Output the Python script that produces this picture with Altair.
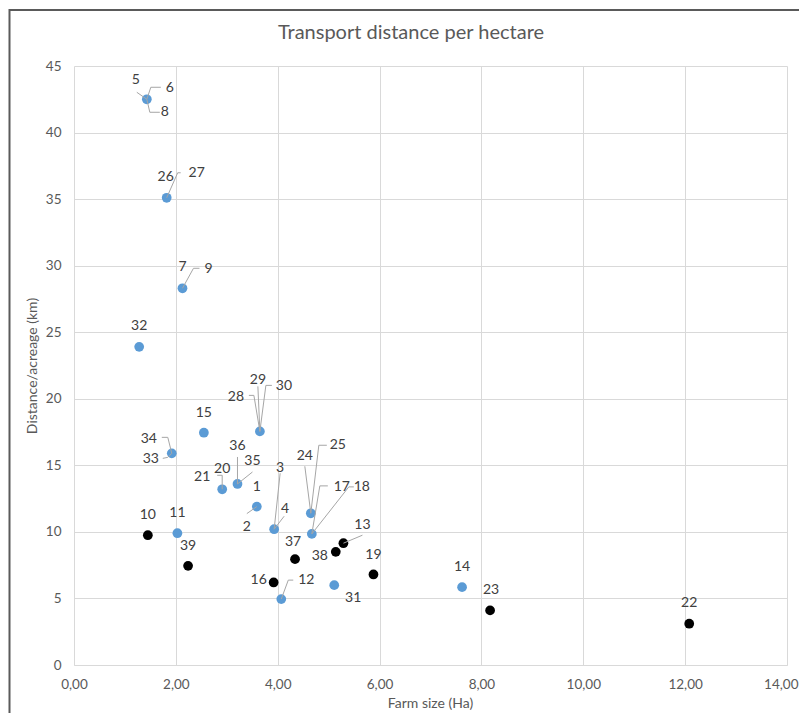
import altair as alt
import pandas as pd

# ---------------- data ----------------
# points (farm size in ha, distance per acreage in km)
point_x = [1.43, 1.82, 2.13, 1.28, 2.55, 3.65, 1.92, 2.91, 3.21, 3.59, 3.93, 4.65, 4.67,
           2.03, 4.07, 5.11, 7.62,
           1.45, 2.24, 4.34, 5.14, 5.29, 5.88, 3.92, 8.17, 12.08]
point_y = [42.5, 35.1, 28.3, 23.9, 17.45, 17.55, 15.9, 13.2, 13.6, 11.9, 10.2, 11.4, 9.85,
           9.9, 4.95, 6.0, 5.85,
           9.75, 7.45, 7.95, 8.5, 9.15, 6.8, 6.2, 4.1, 3.1]
point_group = ["blue"] * 17 + ["black"] * 9

# farm id labels: text, index of point it belongs to
label_text = ["5", "6", "8", "26", "27", "7", "9", "32", "15", "28", "29", "30",
              "34", "33", "20", "21", "36", "35", "1", "2", "3", "4", "24", "25",
              "17", "18", "11", "12", "31", "14",
              "10", "39", "37", "38", "13", "19", "16", "23", "22"]
label_point = [0, 0, 0, 1, 1, 2, 2, 3, 4, 5, 5, 5,
               6, 6, 7, 7, 8, 8, 9, 9, 10, 10, 11, 11,
               12, 12, 13, 14, 15, 16,
               17, 18, 19, 20, 21, 22, 23, 24, 25]
# label placement offsets from the point (pixels)
label_dx = [-11, 23, 18, -1, 30, 0, 26, 0, 0, -24, -2, 24,
            -23, -21, 0, -20, 0, 15, 0, -10, 6, 11, -6, 27,
            30, 50, 0, 25, 19, 0,
            0, 0, -2, -16, 19, 0, -15, 1, 0]
label_dy = [-19, -11, 13, -21, -25, -21, -19, -21, -20, -34, -51, -45,
            -14, 6, -20, -12, -38, -23, -20, 20, -61, -20, -57, -68,
            -47, -47, -20, -19, 13, -20,
            -20, -20, -17, 4, -18, -19, -2, -20, -21]

# leader lines: label it belongs to, and vertex offsets from the point (pixels)
leader_label = ["5", "6", "8", "27", "9", "28", "29", "30", "34", "33", "20", "36",
                "35", "2", "3", "4", "24", "25", "17", "18", "13", "12"]
leader_path = [
    [(0, 0), (-10, -7)],
    [(0, 0), (4, -12), (14, -12)],
    [(0, 0), (3, 13), (13, 13)],
    [(0, 0), (11, -25), (14, -25)],
    [(0, 0), (11, -20), (17, -20)],
    [(0, 0), (-6, -36), (-11, -36)],
    [(0, 0), (-2, -45)],
    [(0, 0), (6, -46), (12, -46)],
    [(0, 0), (-4, -16), (-10, -16)],
    [(0, 0), (-4, 4), (-9, 5)],
    [(0, 0), (0, -14), (-5, -14)],
    [(0, 0), (0, -27)],
    [(0, 0), (15, -12)],
    [(0, 0), (-10, 7)],
    [(0, 0), (6, -56)],
    [(0, 0), (10, -13)],
    [(0, 0), (-6, -47)],
    [(0, 0), (8, -68), (16, -68)],
    [(0, 0), (8, -48), (16, -48)],
    [(0, 0), (37, -47), (42, -47)],
    [(0, 0), (19, -8)],
    [(0, 0), (7, -19), (12, -19)],
]

x_ticks = [0, 2, 4, 6, 8, 10, 12, 14]
y_ticks = [0, 5, 10, 15, 20, 25, 30, 35, 40, 45]
chart_title = "Transport distance per hectare"

# ---------------- layout ----------------
W, H = 713, 599
PAD_R = 12
X_MAX, Y_MAX = 14, 45
px_x = W / X_MAX
px_y = H / Y_MAX

points = pd.DataFrame({"x": point_x, "y": point_y, "group": point_group})

lab_rows = []
for t, p, dx, dy in zip(label_text, label_point, label_dx, label_dy):
    lab_rows.append({"text": t,
                     "x": point_x[p] + dx / px_x,
                     "y": point_y[p] - dy / px_y})
labels = pd.DataFrame(lab_rows)

lead_rows = []
for name, path in zip(leader_label, leader_path):
    p = label_point[label_text.index(name)]
    for k, (dx, dy) in enumerate(path):
        lead_rows.append({"id": name, "order": k,
                          "x": point_x[p] + dx / px_x,
                          "y": point_y[p] - dy / px_y})
leaders = pd.DataFrame(lead_rows)

FONT = "Lato"
GREY = "#595959"

x_scale = alt.Scale(domain=[0, X_MAX], nice=False, zero=True)
y_scale = alt.Scale(domain=[0, Y_MAX], nice=False, zero=True)

last_tick = "datum.value == %d" % X_MAX
x_axis = alt.Axis(values=x_ticks,
                  labelExpr="replace(format(datum.value, '.2f'), '.', ',')",
                  labelFlush=False, labelOverlap=False,
                  labelAlign={"condition": {"test": last_tick, "value": "right"},
                              "value": "center"},
                  labelOffset={"condition": {"test": last_tick, "value": 11},
                               "value": 0},
                  grid=True, gridColor="#d9d9d9", ticks=False,
                  domainColor="#d9d9d9", domainWidth=1,
                  labelPadding=12, labelColor=GREY, labelFontSize=13.5, labelFont=FONT,
                  title="Farm size (Ha)", titleFont=FONT, titleFontSize=14,
                  titleFontWeight="normal", titleColor=GREY,
                  titleX=356, titleY=38, titleAlign="center", titleBaseline="middle")
y_axis = alt.Axis(values=y_ticks, grid=True, gridColor="#d9d9d9", ticks=False,
                  labelFlush=False, labelOverlap=False,
                  domain=False, labelPadding=13, labelColor=GREY, labelFontSize=13.5,
                  labelFont=FONT,
                  title="Distance/acreage (km)", titleFont=FONT, titleFontSize=14,
                  titleFontWeight="normal", titleColor=GREY,
                  titleX=-42, titleY=H / 2, titleAngle=270,
                  titleAlign="center", titleBaseline="middle")

one = pd.DataFrame({"a": [0]})
border_top = alt.Chart(one).mark_rule(color="#5a5a5a", strokeWidth=2).encode(
    x=alt.value(-65), x2=alt.value(W + PAD_R), y=alt.value(-56))
border_left = alt.Chart(one).mark_rule(color="#5a5a5a", strokeWidth=2).encode(
    x=alt.value(-64.5), y=alt.value(-57), y2=alt.value(H + 48))

title_mark = alt.Chart(one).mark_text(
    text=chart_title, font=FONT, fontSize=20, color=GREY,
    align="center", baseline="middle"
).encode(x=alt.value(337), y=alt.value(-33))

pts = alt.Chart(points).mark_circle(size=95, opacity=1).encode(
    x=alt.X("x:Q", scale=x_scale, axis=x_axis),
    y=alt.Y("y:Q", scale=y_scale, axis=y_axis),
    color=alt.Color("group:N", scale=alt.Scale(domain=["blue", "black"],
                                               range=["#5B9BD5", "#000000"]), legend=None),
)

lines = alt.Chart(leaders).mark_line(color="#a6a6a6", strokeWidth=1).encode(
    x=alt.X("x:Q", scale=x_scale),
    y=alt.Y("y:Q", scale=y_scale),
    detail="id:N",
    order="order:Q",
)

texts = alt.Chart(labels).mark_text(
    font=FONT, fontSize=14, color="#404040", align="center", baseline="middle"
).encode(
    x=alt.X("x:Q", scale=x_scale),
    y=alt.Y("y:Q", scale=y_scale),
    text="text:N",
)

chart = alt.layer(border_top, border_left, title_mark, pts, lines, texts).properties(
    width=W, height=H,
    autosize=alt.AutoSizeParams(type="none"),
    padding={"left": 66, "top": 58, "right": PAD_R, "bottom": 48},
).configure_view(stroke=None)

chart.save("out.html", embed_options={"renderer": "svg", "actions": False})
